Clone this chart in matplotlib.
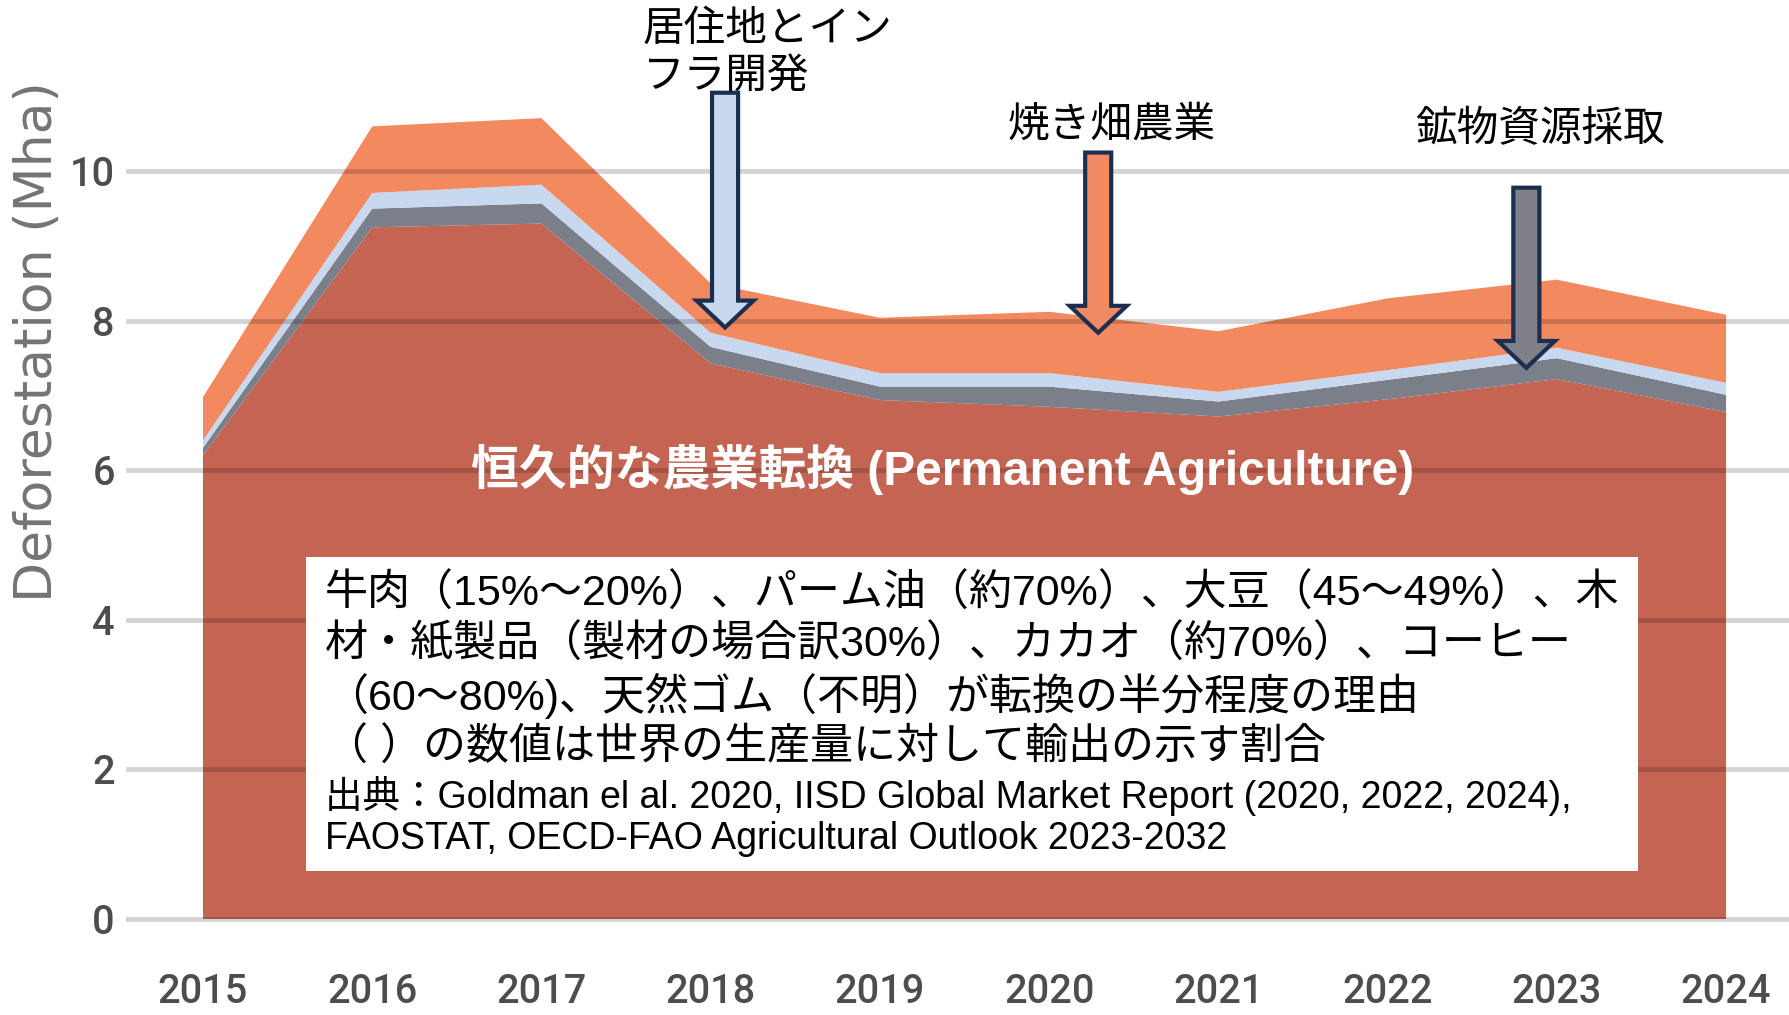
import matplotlib
matplotlib.use("Agg")
import matplotlib.pyplot as plt
from matplotlib.patches import Rectangle, FancyArrow

years = [2015, 2016, 2017, 2018, 2019, 2020, 2021, 2022, 2023, 2024]
# stacked layers, Mha
permanent_agri = [6.20, 9.25, 9.30, 7.43, 6.94, 6.85, 6.72, 6.95, 7.22, 6.78]
mining = [0.10, 0.25, 0.27, 0.22, 0.18, 0.27, 0.20, 0.26, 0.28, 0.23]
urban = [0.10, 0.21, 0.25, 0.19, 0.18, 0.18, 0.13, 0.13, 0.14, 0.16]
shifting = [0.58, 0.89, 0.89, 0.66, 0.74, 0.82, 0.81, 0.96, 0.91, 0.91]

layer_colors = ["#c46453", "#7a7f89", "#c8d8ee", "#f2895f"]
yticks = [0, 2, 4, 6, 8, 10]

# arrows: (x year, top value, tip value, fill colour)
arrows = [(2018.085, 11.05, 7.91, "#c8d8ee"),
          (2020.29, 10.25, 7.84, "#f08a62"),
          (2022.82, 9.78, 7.37, "#7f8089")]

labels_top = [("居住地とイン", 643, 29), ("フラ開発", 643, 77),
              ("焼き畑農業", 1008, 125), ("鉱物資源採取", 1415, 130)]

box_lines = ["牛肉（15%～20%）、パーム油（約70%）、大豆（45～49%）、木",
             "材・紙製品（製材の場合訳30%）、カカオ（約70%）、コーヒー",
             "（60～80%)、天然ゴム（不明）が転換の半分程度の理由",
             "（ ）の数値は世界の生産量に対して輸出の示す割合"]
source_lines = ["出典：Goldman el al. 2020, IISD Global Market Report (2020, 2022, 2024),",
                "FAOSTAT, OECD-FAO Agricultural Outlook 2023-2032"]

W, H = 1790, 1015
fig = plt.figure(figsize=(W / 100, H / 100), dpi=100)
ax = fig.add_axes([126 / W, 0.07251, 1 - 126 / W, 0.92749])


def fx(x):
    return x / W


def fy(y):
    return 1 - y / H


ax.stackplot(years, permanent_agri, mining, urban, shifting,
             colors=layer_colors, linewidth=0)

ax.set_xlim(2014.545, 2024.378)
ax.set_ylim(-0.3, 12.29)
ax.set_yticks(yticks)
ax.set_xticks(years)
ax.set_axisbelow(False)
ax.yaxis.grid(True, color="black", alpha=0.17, linewidth=3.5)
ax.xaxis.grid(False)
for s in ax.spines.values():
    s.set_visible(False)
ax.tick_params(axis="both", length=0, labelsize=28.5, labelcolor="#4d4d4d")
ax.tick_params(axis="y", pad=8)
ax.tick_params(axis="x", pad=23)
for lab in ax.get_xticklabels() + ax.get_yticklabels():
    lab.set_fontfamily("Roboto")
    lab.set_fontweight("medium")

fig.text(fx(38), fy(342), "Deforestation (Mha)", rotation=90, ha="center", va="center",
         fontsize=37.5, color="#747474", family="DejaVu Sans")

for x, ytop, ytip, col in arrows:
    ax.add_patch(FancyArrow(x, ytop, 0, ytip - ytop, width=0.154, head_width=0.337,
                            head_length=0.36, length_includes_head=True,
                            facecolor=col, edgecolor="#1c2e4f", linewidth=3, zorder=5))

jp = ["Noto Sans CJK JP", "DejaVu Sans"]
for txt, x, y in labels_top:
    fig.text(fx(x), fy(y), txt, ha="left", va="center", fontsize=30, color="black", family=jp)

fig.text(fx(943), fy(469), "恒久的な農業転換 (Permanent Agriculture)", ha="center", va="center",
         fontsize=34.5, color="white", fontweight="bold",
         family=["Liberation Sans", "Noto Sans CJK JP"])

fig.patches.append(Rectangle((fx(306), fy(871)), fx(1638) - fx(306), fy(557) - fy(871),
                             transform=fig.transFigure, facecolor="white", edgecolor="none",
                             zorder=1))

mix = ["Liberation Sans", "Noto Sans CJK JP"]
for txt, y in zip(box_lines, [594, 645, 696, 748]):
    fig.text(fx(325), fy(y), txt, ha="left", va="center", fontsize=31, color="black",
             family=mix, zorder=2)
for txt, y in zip(source_lines, [796, 839]):
    fig.text(fx(325), fy(y), txt, ha="left", va="center", fontsize=27, color="black",
             family=mix, zorder=2)

fig.savefig("out.png", dpi=100)
